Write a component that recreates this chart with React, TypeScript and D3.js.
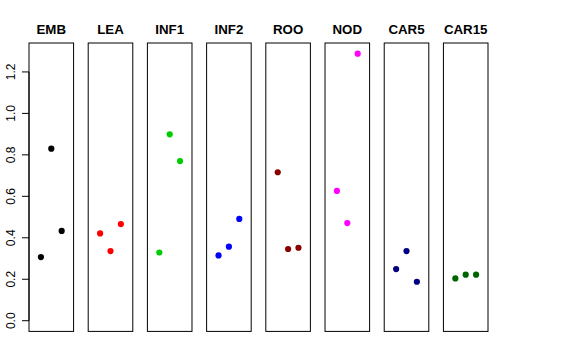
import React from "react";
import * as d3 from "d3";

const tissues = ["EMB", "LEA", "INF1", "INF2", "ROO", "NOD", "CAR5", "CAR15"];
const colors = ["#000000", "#FF0000", "#00CD00", "#0000FF", "#8B0000", "#FF00FF", "#000080", "#006400"];
const EMB = [0.307, 0.83, 0.433];
const LEA = [0.421, 0.336, 0.466];
const INF1 = [0.329, 0.899, 0.77];
const INF2 = [0.315, 0.357, 0.491];
const ROO = [0.716, 0.346, 0.352];
const NOD = [0.626, 0.471, 1.288];
const CAR5 = [0.249, 0.336, 0.188];
const CAR15 = [0.204, 0.222, 0.222];
const values = [EMB, LEA, INF1, INF2, ROO, NOD, CAR5, CAR15];
const yTicks = [0, 0.2, 0.4, 0.6, 0.8, 1.0, 1.2];
const jitter = [-1, 0, 1];

const W = 576;
const H = 360;

export default function App() {
  const ymax = d3.max(values.flat()) as number;
  const pad = ymax * 0.04;
  const y = d3.scaleLinear().domain([-pad, ymax + pad]).range([331.4, 43]);
  const panels = d3.scaleBand<string>().domain(tissues).range([29, 488]).paddingInner(0.247).paddingOuter(0);
  const bw = panels.bandwidth();
  const xj = d3.scaleLinear().domain([-2.15, 2.15]).range([0, bw]);
  const font = "'Liberation Sans', Arial, Helvetica, sans-serif";
  return (
    <svg width={W} height={H} style={{ position: "absolute", left: 0, top: 0, background: "#fff" }} fontFamily={font}>
      <rect x={0} y={0} width={W} height={H} fill="#fff" />
      {tissues.map((t, i) => {
        const x0 = panels(t) as number;
        return (
          <g key={t}>
            <rect x={x0} y={y(ymax + pad)} width={bw} height={y(-pad) - y(ymax + pad)} fill="none" stroke="#000" strokeWidth={1} />
            <text x={x0 + bw / 2} y={34} textAnchor="middle" fontWeight="bold" fontSize={13.3}>{t}</text>
            {values[i].map((v, j) => (
              <circle key={j} cx={x0 + xj(jitter[j])} cy={y(v)} r={3.1} fill={colors[i]} />
            ))}
          </g>
        );
      })}
      <g>
        <line x1={29} x2={29} y1={y(0)} y2={y(1.2)} stroke="#000" />
        {yTicks.map((t) => (
          <g key={t}>
            <line x1={22} x2={29} y1={y(t)} y2={y(t)} stroke="#000" />
            <text transform={`translate(15,${y(t)}) rotate(-90)`} textAnchor="middle" fontSize={12}>{t.toFixed(1)}</text>
          </g>
        ))}
      </g>
    </svg>
  );
}
